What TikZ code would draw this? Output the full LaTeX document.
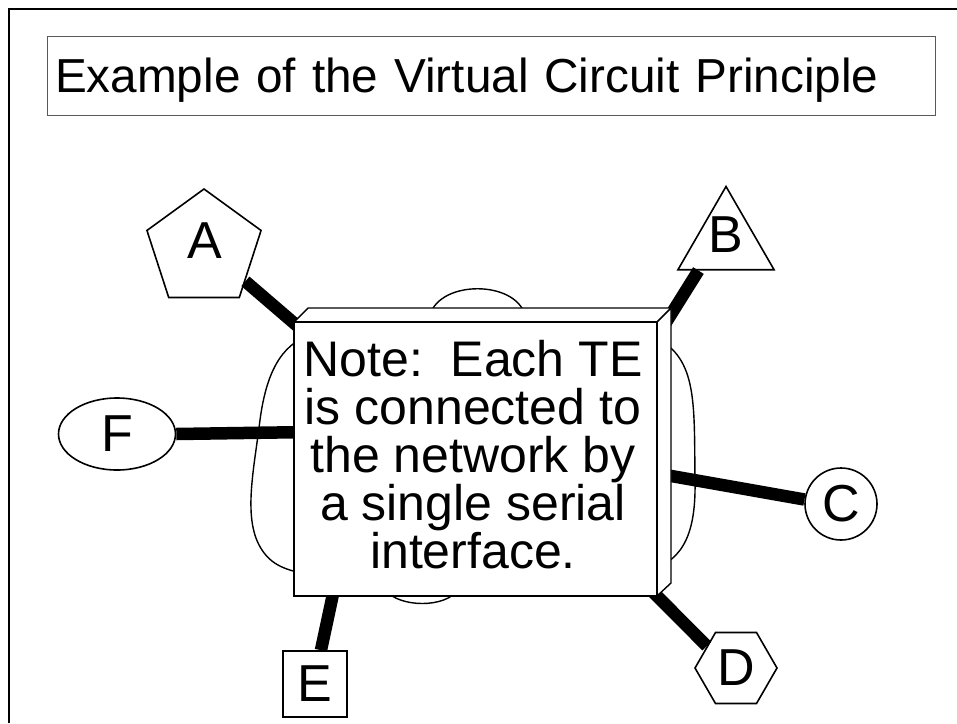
\documentclass[tikz,border=0pt]{standalone}
\usepackage{fontspec}
\setmainfont{Liberation Sans}
\usetikzlibrary{shapes.geometric}

\begin{document}
\begin{tikzpicture}[x=1pt,y=-1pt,
  term/.style={draw,fill=white,line width=1.6pt,inner sep=0pt,font=\fontsize{52}{52}\selectfont},
  letter/.style={inner sep=0pt,font=\fontsize{52}{52}\selectfont},
  link/.style={line width=12.5pt},
  face/.style={draw,fill=white,line width=1.4pt}]
  \useasboundingbox (0,0) rectangle (957,723);

  \draw[line width=2.5pt] (9,723) -- (9,9) -- (957,9);
  \node (title) at (491,75.5) [draw=black!65,line width=1pt,minimum width=888pt,minimum height=79pt,
    text width=872pt,inner xsep=8pt,inner ysep=0pt,align=left,text depth=0pt,
    font=\fontsize{47.7}{57}\selectfont]{Example of the Virtual Circuit Principle};

  % the network
  \draw[line width=1.4pt] (310,335) .. controls (280,345) and (266,375) .. (260,420)
    .. controls (254,470) and (242,520) .. (262,550)
    .. controls (272,565) and (285,570) .. (310,575)
    -- (385,590) .. controls (400,608) and (445,608) .. (458,590)
    -- (650,570) .. controls (685,560) and (696,530) .. (695,480)
    .. controls (694,400) and (698,355) .. (650,335)
    -- (525,315) .. controls (515,280) and (440,280) .. (430,315)
    -- cycle;

  \node (A) at (204,249) [term,regular polygon,regular polygon sides=5,minimum size=120pt]{};
  \node (Aname) at (205,241) [letter]{A};
  \node (B) at (726,242) [term,regular polygon,regular polygon sides=3,minimum size=111pt]{};
  \node (Bname) at (726,235) [letter]{B};
  \node (C) at (841,504) [term,circle,minimum size=72pt]{C};
  \node (D) at (736,668) [term,regular polygon,regular polygon sides=6,minimum size=82pt]{D};
  \node (E) at (315,684) [term,rectangle,minimum width=64pt,minimum height=66pt]{E};
  \node (F) at (117,434) [term,ellipse,minimum width=117pt,minimum height=72pt]{F};

  \coordinate (a) at (309,336);
  \coordinate (b) at (660,332);
  \coordinate (c) at (660,474);
  \coordinate (d) at (645,584);
  \coordinate (e) at (336,580);
  \coordinate (f) at (310,432);

  \draw[link] (A.-38) -- (a);
  \draw[link] (B.226) -- (b);
  \draw[link] (C.173) -- (c);
  \draw[link] (D.143) -- (d);
  \draw[link] (E.80) -- (e);
  \draw[link] (F.east) -- (f);

  % the note
  \filldraw[face] (294,322) -- (308,308) -- (671,308) -- (657,322) -- cycle;
  \filldraw[face] (657,322) -- (671,308) -- (671,583) -- (657,596) -- cycle;
  \node (note) at (475.5,459) [face,minimum width=363pt,minimum height=274pt,inner sep=0pt]{};
  \node (notetext) at (473,455) [align=center,inner sep=0pt,font=\fontsize{50}{48}\selectfont]
    {Note:\ \ Each TE\\is connected to\\the network by\\a single serial\\interface.};

\end{tikzpicture}
\end{document}
